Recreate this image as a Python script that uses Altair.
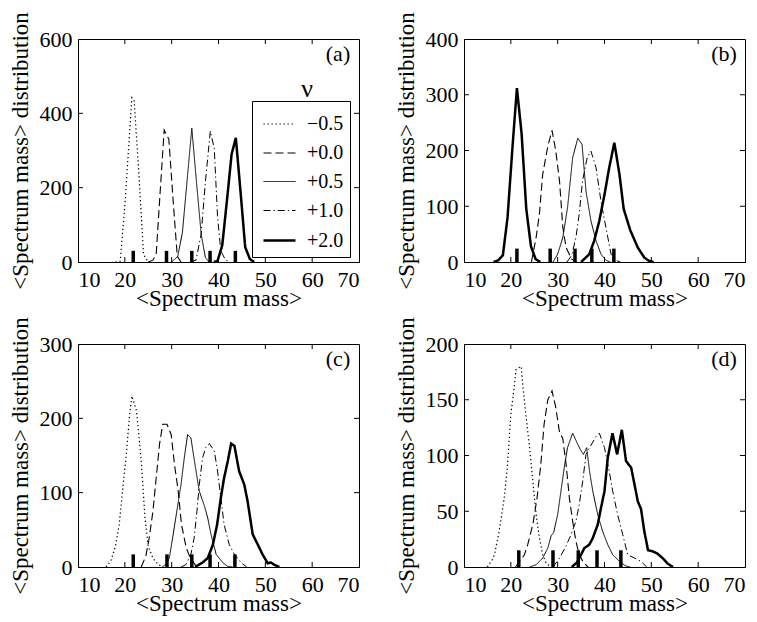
import altair as alt
import pandas as pd

# ---------------- data ----------------
X_TICKS = [10, 20, 30, 40, 50, 60, 70]
Y_TICKS_A = [0, 200, 400, 600]
Y_TICKS_B = [0, 100, 200, 300, 400]
Y_TICKS_C = [0, 100, 200, 300]
Y_TICKS_D = [0, 50, 100, 150, 200]

NU_LABELS = ["−0.5", "+0.0", "+0.5", "+1.0", "+2.0"]

# panel (a)
A_M05 = [[18, 0], [19, 2], [20, 150], [21, 345], [21.5, 442], [22, 433], [23, 236], [24, 20], [25, 0]]
A_P00 = [[25, 0], [26, 5], [26.7, 21], [27.5, 180], [28.4, 355], [29.4, 330], [30.4, 150], [31.2, 15], [32, 0]]
A_P05 = [[30, 0], [31.3, 15], [32.3, 80], [33.3, 220], [34.3, 360], [35.3, 215], [36.3, 75], [37.2, 12], [38, 0]]
A_P10 = [[34, 0], [35.2, 5], [36.3, 75], [37.2, 215], [38.25, 352], [39.1, 305], [39.8, 120], [40.5, 30], [41.5, 5], [42.5, 0]]
A_P20 = [[39, 0], [39.8, 3], [40.8, 45], [41.8, 165], [42.8, 290], [43.7, 334], [44.7, 190], [45.7, 40], [46.7, 8], [47.6, 0]]

# panel (b)
B_M05 = [[16.3, 0], [17.3, 3], [18.3, 12], [19.3, 80], [20.3, 200], [21.3, 312], [22.3, 230], [23.3, 95], [24.3, 28], [25.3, 5], [26.3, 0]]
B_P00 = [[24.4, 0], [25.4, 44], [26.1, 86], [26.8, 157], [27.9, 208], [28.8, 236], [29.6, 199], [30.4, 145], [31.1, 62], [31.8, 26], [33, 5], [34, 0]]
B_P05 = [[29, 0], [30, 14], [31.1, 44], [32.1, 97], [33.2, 187], [34.3, 222], [35.2, 211], [36.05, 127], [37.1, 74], [38.2, 38], [39.25, 14], [40.3, 3], [41.3, 0]]
B_P10 = [[32, 0], [33, 12], [33.9, 44], [34.6, 86], [35.3, 145], [36.3, 187], [37.1, 199], [38.2, 169], [39.25, 109], [40.3, 62], [41.4, 14], [42.4, 3], [43.4, 0]]
B_P20 = [[35, 0], [36.75, 14], [37.8, 38], [38.9, 74], [40.0, 121], [41.0, 169], [42.1, 214], [43.2, 157], [44.1, 95], [45.5, 57], [47.1, 26], [48.5, 8], [49.5, 2], [50.5, 0]]

# panel (c)
C_M05 = [[16, 0], [17, 8], [18, 28], [18.8, 57], [19.5, 102], [20.25, 147], [21, 203], [21.5, 230], [22.5, 210], [23.5, 143], [24.3, 66], [25, 28], [26, 12], [27, 4], [28, 0]]
C_P00 = [[23.5, 0], [24.5, 15], [25.2, 39], [26.0, 75], [26.7, 120], [27.4, 165], [28.1, 192], [29.0, 192], [29.9, 178], [30.6, 138], [31.4, 102], [32.1, 57], [33.1, 26], [33.8, 15], [35, 3], [36, 0]]
C_P05 = [[28, 0], [28.8, 4], [29.5, 12], [30.2, 39], [31.1, 75], [32.0, 111], [32.7, 147], [33.4, 178], [34.1, 174], [35.2, 129], [35.9, 102], [37.0, 82], [37.7, 66], [38.4, 44], [39.5, 17], [40.9, 6], [41.9, 1], [43, 0]]
C_P10 = [[32, 0], [33, 3], [34.1, 17], [34.8, 39], [35.4, 75], [35.9, 111], [36.6, 147], [37.3, 161], [38.05, 166], [39.1, 156], [39.8, 129], [40.5, 93], [41.2, 57], [42.3, 30], [43.4, 17], [44.8, 6], [46, 0]]
C_P20 = [[35, 0], [36.6, 6], [37.7, 12], [38.8, 30], [39.7, 57], [40.5, 93], [41.2, 120], [42.0, 143], [42.7, 166], [43.4, 163], [44.4, 129], [45.5, 111], [46.2, 89], [47.3, 44], [48.4, 30], [49.4, 17], [50.5, 5], [51.2, 6], [51.9, 3], [53, 0]]

# panel (d)
D_M05 = [[15, 0], [16.1, 7], [16.5, 11], [17.5, 32], [18.6, 62], [19.3, 92], [20.0, 137], [20.75, 162], [21.1, 177], [22.2, 180], [22.5, 165], [23.2, 137], [24.0, 107], [24.7, 77], [25.4, 47], [26.1, 26], [26.8, 11], [27.5, 4], [28.5, 0]]
D_P00 = [[21, 0], [22.9, 11], [23.6, 20], [24.7, 38], [25.6, 62], [26.4, 92], [27.1, 128], [27.9, 150], [28.8, 158], [29.6, 143], [30.35, 122], [31.1, 115], [31.8, 92], [32.5, 62], [33.2, 41], [33.9, 23], [34.6, 11], [35.5, 4], [36.5, 0]]
D_P05 = [[24, 0], [25.4, 2], [26.8, 8], [27.9, 17], [28.6, 28], [29.15, 31], [30.0, 47], [30.7, 68], [31.4, 89], [32.1, 107], [33.2, 120], [34.3, 110], [35.0, 104], [35.5, 101], [36.2, 107], [36.8, 86], [37.5, 68], [38.55, 47], [39.6, 32], [40.7, 20], [41.75, 11], [43.2, 5], [44.5, 1], [45.5, 0]]
D_P10 = [[29, 0], [30.4, 8], [31.8, 19], [32.85, 29], [33.9, 41], [34.6, 56], [35.35, 77], [36.05, 101], [36.8, 107], [38.2, 117], [38.9, 120], [40.0, 107], [41.0, 86], [41.75, 68], [42.8, 47], [43.9, 29], [44.95, 11], [46.4, 8], [47.8, 5], [49, 0]]
D_P20 = [[33, 0], [34.1, 4], [35.0, 11], [35.7, 17], [36.75, 20], [37.5, 26], [38.55, 38], [39.25, 53], [40.0, 68], [40.7, 98], [41.7, 120], [42.7, 101], [43.7, 123], [44.6, 95], [45.7, 89], [46.5, 72], [47.1, 59], [47.8, 52], [48.5, 32], [49.3, 15], [50.3, 14], [51.3, 12], [52.4, 8], [53.5, 3], [54.6, 0]]

# means (short thick bars on the baseline)
MEANS_A = [21.8, 28.9, 34.3, 38.2, 43.6]
MEANS_B = [21.3, 28.4, 33.7, 37.3, 42.0]
MEANS_C = [21.8, 29.0, 34.3, 38.2, 43.5]
MEANS_D = [21.7, 29.0, 34.4, 38.4, 43.5]
MEAN_BAR_A = 30
MEAN_BAR_B = 24
MEAN_BAR_C = 17
MEAN_BAR_D = 15

# ---------------- styling ----------------
FONT = "Liberation Serif"
W, H = 281, 223
DASHES = [[1.3, 2.7], [8, 4], [1, 0], [7, 3, 1.3, 3], [1, 0]]
WIDTHS = [1.2, 1.1, 1, 1, 2.5]


def panel(letter, series, means, bar_h, y_max, y_ticks, legend=False):
    rows = []
    for nu, style, pts in series:
        for x, y in pts:
            rows.append({"nu": nu, "style": style, "x": x, "y": y})
    df = pd.DataFrame(rows)
    xs = alt.Scale(domain=[10, 70], nice=False, zero=False)
    ys = alt.Scale(domain=[0, y_max], nice=False)
    xa = alt.Axis(values=X_TICKS, title="<Spectrum mass>", format="d",
                  labelPadding=7, titleY=43, titleBaseline="alphabetic")
    ya = alt.Axis(values=y_ticks, title="<Spectrum mass> distribution", format="d",
                  labelPadding=6, titleX=-51, titleBaseline="alphabetic")

    if legend:
        leg = alt.Legend(title=None, orient="none", legendX=174, legendY=62,
                         strokeColor="black", fillColor="white", padding=6,
                         symbolType="stroke", symbolSize=1024, symbolStrokeColor="black",
                         symbolOffset=4, labelFont=FONT, labelFontSize=20,
                         labelColor="black", labelOffset=10, rowPadding=2)
    else:
        leg = None

    lines = alt.Chart(df).mark_line(color="black").encode(
        x=alt.X("x:Q", scale=xs, axis=xa),
        y=alt.Y("y:Q", scale=ys, axis=ya),
        detail="nu:N",
        strokeDash=alt.StrokeDash("style:N", scale=alt.Scale(domain=NU_LABELS, range=DASHES),
                                  legend=leg),
        strokeWidth=alt.StrokeWidth("style:N",
                                    scale=alt.Scale(type="ordinal", domain=NU_LABELS, range=WIDTHS),
                                    legend=leg),
    )

    mdf = pd.DataFrame({"m": means, "lo": [0] * len(means), "hi": [bar_h] * len(means)})
    bars = alt.Chart(mdf).mark_rule(color="black", strokeWidth=3.5).encode(
        x=alt.X("m:Q", scale=xs, axis=xa),
        y=alt.Y("lo:Q", scale=ys, axis=ya),
        y2="hi:Q",
    )

    xt = pd.DataFrame({"v": X_TICKS[1:-1]})
    yt = pd.DataFrame({"v": y_ticks[1:-1]})
    tb = alt.Chart(xt).mark_rule(color="black", strokeWidth=1).encode(
        x=alt.X("v:Q", scale=xs, axis=xa), y=alt.value(H), y2=alt.value(H - 5))
    tt = alt.Chart(xt).mark_rule(color="black", strokeWidth=1).encode(
        x=alt.X("v:Q", scale=xs, axis=xa), y=alt.value(0), y2=alt.value(5))
    tl = alt.Chart(yt).mark_rule(color="black", strokeWidth=1).encode(
        y=alt.Y("v:Q", scale=ys, axis=ya), x=alt.value(0), x2=alt.value(5))
    tr = alt.Chart(yt).mark_rule(color="black", strokeWidth=1).encode(
        y=alt.Y("v:Q", scale=ys, axis=ya), x=alt.value(W - 5), x2=alt.value(W))

    lab = alt.Chart(pd.DataFrame({"t": [f"({letter})"]})).mark_text(
        font=FONT, fontSize=22, align="center", baseline="middle", color="black"
    ).encode(x=alt.value(260), y=alt.value(15), text="t:N")

    layers = [lines, bars, tb, tt, tl, tr, lab]
    if legend:
        nu_t = alt.Chart(pd.DataFrame({"t": ["ν"]})).mark_text(
            font=FONT, fontSize=26, align="center", baseline="alphabetic", color="black"
        ).encode(x=alt.value(229), y=alt.value(58), text="t:N")
        layers.append(nu_t)
    return alt.layer(*layers).properties(width=W, height=H)


pa = panel("a", [(NU_LABELS[0], NU_LABELS[0], A_M05), (NU_LABELS[1], NU_LABELS[1], A_P00),
                 (NU_LABELS[2], NU_LABELS[2], A_P05), (NU_LABELS[3], NU_LABELS[3], A_P10),
                 (NU_LABELS[4], NU_LABELS[4], A_P20)],
           MEANS_A, MEAN_BAR_A, 600, Y_TICKS_A, legend=True)
# in panel (b) the first peak is drawn with the thick solid pen, as in the original
pb = panel("b", [(NU_LABELS[0], NU_LABELS[4], B_M05), (NU_LABELS[1], NU_LABELS[1], B_P00),
                 (NU_LABELS[2], NU_LABELS[2], B_P05), (NU_LABELS[3], NU_LABELS[3], B_P10),
                 (NU_LABELS[4], NU_LABELS[4], B_P20)],
           MEANS_B, MEAN_BAR_B, 400, Y_TICKS_B)
pc = panel("c", [(NU_LABELS[0], NU_LABELS[0], C_M05), (NU_LABELS[1], NU_LABELS[1], C_P00),
                 (NU_LABELS[2], NU_LABELS[2], C_P05), (NU_LABELS[3], NU_LABELS[3], C_P10),
                 (NU_LABELS[4], NU_LABELS[4], C_P20)],
           MEANS_C, MEAN_BAR_C, 300, Y_TICKS_C)
pd_ = panel("d", [(NU_LABELS[0], NU_LABELS[0], D_M05), (NU_LABELS[1], NU_LABELS[1], D_P00),
                  (NU_LABELS[2], NU_LABELS[2], D_P05), (NU_LABELS[3], NU_LABELS[3], D_P10),
                  (NU_LABELS[4], NU_LABELS[4], D_P20)],
            MEANS_D, MEAN_BAR_D, 200, Y_TICKS_D)

chart = alt.concat(pa, pb, pc, pd_, columns=2, spacing={"row": 82, "column": 105},
                   bounds="flush").resolve_scale(
    strokeDash="independent", strokeWidth="independent"
).resolve_legend(
    strokeDash="independent", strokeWidth="independent"
).properties(
    padding={"left": 0, "top": 3, "right": 2, "bottom": 0}, background="white"
).configure_view(
    stroke="black", strokeWidth=1
).configure_axis(
    domainColor="black", domainWidth=1, ticks=False, grid=False,
    labelFont=FONT, labelFontSize=22, labelColor="black",
    titleFont=FONT, titleFontSize=23, titleFontWeight="normal", titleColor="black"
)

chart.save("out.html", embed_options={"renderer": "svg", "actions": False})
